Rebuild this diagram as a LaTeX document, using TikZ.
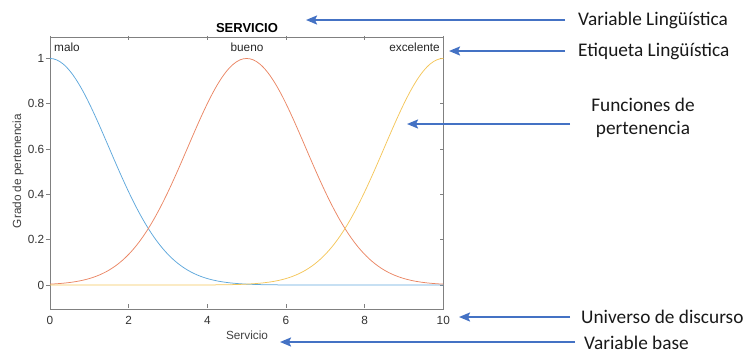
\documentclass[tikz,border=0pt]{standalone}
\usepackage{fontspec}
\setmainfont{Liberation Sans}
\newfontfamily\notefont{Carlito}
\usetikzlibrary{arrows.meta}
\definecolor{mfblue}{RGB}{95,168,220}
\definecolor{mforange}{RGB}{234,134,100}
\definecolor{mfyellow}{RGB}{244,198,90}
\definecolor{axgray}{RGB}{128,128,128}
\definecolor{ticktext}{RGB}{50,50,50}
\definecolor{pointerblue}{RGB}{68,114,196}
\tikzset{
  axisline/.style={draw=axgray, line width=0.8bp},
  tickmark/.style={draw=axgray, line width=0.7bp},
  ticklabel/.style={font=\fontsize{11.8bp}{13bp}\selectfont, text=ticktext, inner sep=0pt},
  mflabel/.style={font=\fontsize{11.8bp}{13bp}\selectfont, text=black!85, inner sep=0pt},
  mfcurve/.style={line width=0.75bp},
  annot/.style={font=\notefont\fontsize{19.3bp}{23bp}\selectfont, text=black!90, inner sep=0pt},
  pointer/.style={draw=pointerblue, line width=1.8bp, -{Stealth[length=11bp,width=9bp,inset=2bp]}}
}
\begin{document}
\begin{tikzpicture}[x=1bp,y=-1bp]
\useasboundingbox (0,0) rectangle (747,354);

% plot frame
\draw[axisline] (50,37) rectangle (443.3,309);

% data coordinates: x from 0 to 10, y from -0.1 to 1.1
\begin{scope}[shift={(50,285)}, x=39.33bp, y=226.5bp]
  % x ticks (bottom and top, inward) and labels
  \foreach \t in {0,2,4,6,8,10}{
    \draw[tickmark] (\t,-0.1) -- ++(0,0.018);
    \draw[tickmark] (\t,1.1) -- ++(0,-0.018);
    \node[ticklabel] (xt\t) at (\t,-0.158) {\t};
  }
  % y ticks (left outward, right inward) and labels
  \foreach \t/\l in {0/0,0.2/0.2,0.4/0.4,0.6/0.6,0.8/0.8,1/1}{
    \draw[tickmark] (0,\t) -- ++(-0.09,0);
    \draw[tickmark] (10,\t) -- ++(-0.09,0);
    \node[ticklabel, anchor=east] (yt\l) at (-0.14,\t) {\l};
  }
  % membership functions (gaussian, sigma = 1.5)
  \draw[mfcurve, mfblue] plot[domain=0:10, samples=121, smooth] (\x,{exp(-(\x)^2/4.5)});
  \draw[mfcurve, mforange] plot[domain=0:10, samples=121, smooth] (\x,{exp(-(\x-5)^2/4.5)});
  \draw[mfcurve, mfyellow] plot[domain=0:10, samples=121, smooth] (\x,{exp(-(\x-10)^2/4.5)});
\end{scope}

% titles and labels of the plot
\node[font=\bfseries\fontsize{13bp}{15bp}\selectfont, inner sep=0pt] (title) at (247,28) {SERVICIO};
\node[ticklabel, text=black!75] (xlabel) at (247,335) {Servicio};
\node[ticklabel, text=black!75, rotate=90] (ylabel) at (18,171) {Grado de pertenencia};
\node[mflabel, anchor=west] (malo) at (54,47) {malo};
\node[mflabel] (bueno) at (247,47) {bueno};
\node[mflabel, anchor=east] (excelente) at (440,47) {excelente};

% annotations
\node[annot, anchor=west] (varling) at (578,20) {Variable Lingüística};
\node[annot, anchor=west] (etiq) at (578,51) {Etiqueta Lingüística};
\node[annot, align=center] (funcs) at (643,118) {Funciones de\\pertenencia};
\node[annot, anchor=west] (universo) at (581,317) {Universo de discurso};
\node[annot, anchor=base west] (varbase) at (584,349.5) {Variable base};

\coordinate (varlingTip) at (306,20);
\coordinate (etiqTip) at (449,51);
\coordinate (funcsTip) at (407,124);
\coordinate (universoTip) at (459,317);
\coordinate (varbaseTip) at (280,342);

\draw[pointer] ([xshift=-13bp]varling.west) -- (varlingTip);
\draw[pointer] ([xshift=-13bp]etiq.west) -- (etiqTip);
\draw[pointer] ([xshift=-21bp]funcs.west |- funcsTip) -- (funcsTip);
\draw[pointer] ([xshift=-11bp]universo.west) -- (universoTip);
\draw[pointer] ([xshift=-9bp]varbase.west |- varbaseTip) -- (varbaseTip);
\end{tikzpicture}
\end{document}
